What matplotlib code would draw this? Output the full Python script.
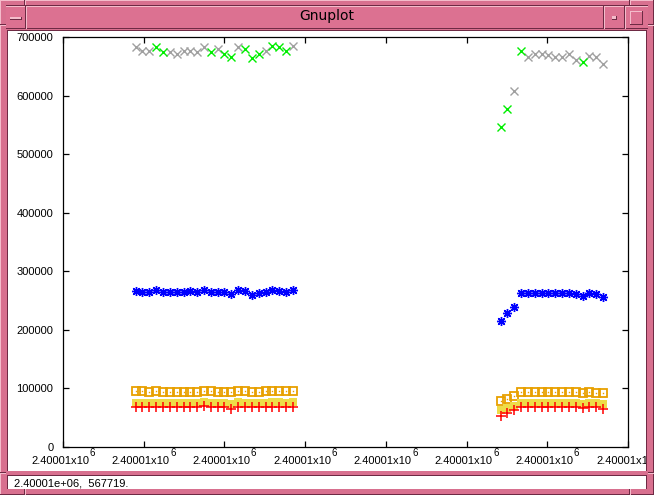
import matplotlib
matplotlib.use('Agg')
import matplotlib.pyplot as plt
from matplotlib.patches import Rectangle
from matplotlib.transforms import Bbox, TransformedBbox

W, H = 654, 495
plt.rcParams['font.family'] = ['Liberation Sans', 'DejaVu Sans']

# time axis (in tick units, all ticks read 2.40001x10^6)
t_left = [0.904, 0.979, 1.066, 1.152, 1.239, 1.326, 1.412, 1.499, 1.574, 1.660, 1.747, 1.834,
          1.920, 1.995, 2.082, 2.168, 2.255, 2.342, 2.428, 2.515, 2.590, 2.676, 2.763, 2.850]
t_right = [5.427, 5.501, 5.588, 5.675, 5.761, 5.848, 5.935, 6.009, 6.096, 6.183, 6.269, 6.356,
           6.443, 6.517, 6.604, 6.691]
t_all = t_left + t_right

red_v = [67800, 67800, 67800, 67800, 67800, 67800, 67800, 67800, 67800, 67800, 70000, 67800,
         67800, 67800, 65500, 67800, 67800, 67800, 67800, 67800, 67800, 67800, 67800, 67800,
         53500, 58500, 62500, 67800, 67800, 67800, 67800, 67800, 67800, 67800, 67800, 67800,
         66000, 67800, 67800, 64500]
yellow_v = [75600, 75600, 75600, 75600, 75600, 75600, 75600, 75600, 75600, 75600, 77300, 75600,
            75600, 75600, 73900, 77300, 75600, 75600, 75600, 75600, 77300, 77300, 75600, 77300,
            63700, 67100, 70500, 75600, 75600, 75600, 75600, 75600, 75600, 75600, 75600, 75600,
            73900, 75600, 75600, 73900]
orange_v = [95100, 95100, 93400, 95700, 93400, 93400, 93400, 93400, 93400, 93400, 95100, 95100,
            93400, 93400, 93400, 95100, 95100, 93400, 93400, 95100, 95100, 95100, 95100, 95100,
            78000, 81400, 87100, 93400, 93400, 93400, 93400, 93400, 93400, 93400, 93400, 93400,
            92300, 93400, 92300, 92300]
blue_v = [265800, 264100, 264100, 267500, 264100, 264100, 264100, 264100, 265800, 264100, 267500, 264100,
          264100, 264100, 260700, 267500, 265800, 259000, 262400, 264100, 267500, 265800, 264100, 267500,
          214600, 228300, 238500, 262400, 262400, 262400, 262400, 262400, 262400, 262400, 262400, 260700,
          257800, 263500, 260700, 256600]

green_t = [1.152, 1.239, 1.834, 1.995, 2.082, 2.255, 2.342, 2.428, 2.590, 2.676, 2.763,
           5.427, 5.501, 5.675, 6.443]
green_v = [682400, 673900, 673900, 670500, 665300, 679500, 663600, 670500, 685100, 682400, 676600,
           546000, 577000, 675600, 657000]
gray_t = [0.904, 0.979, 1.066, 1.326, 1.412, 1.499, 1.574, 1.660, 1.747, 1.920, 2.168, 2.515, 2.850,
          5.588, 5.761, 5.848, 5.935, 6.009, 6.096, 6.183, 6.269, 6.356, 6.517, 6.604, 6.691]
gray_v = [682400, 676600, 676600, 673900, 670500, 676600, 676600, 673900, 683400, 679500, 683400, 675600, 685100,
          608000, 665300, 671000, 671000, 669500, 666000, 666000, 671000, 660800, 667600, 665900, 654000]

yticks = [0, 100000, 200000, 300000, 400000, 500000, 600000, 700000]
xtick_text = '2.40001x10'
status = '2.40001e+06,  567719.'

PINK = '#d8708f'
LIGHT = '#f4bccb'
DARK = '#6e2a44'

fig = plt.figure(figsize=(6.54, 4.95), dpi=100, facecolor=PINK)


def box(x0, y0, x1, y1, color, z=0):
    fig.add_artist(Rectangle((x0 / W, 1 - y1 / H), (x1 - x0) / W, (y1 - y0) / H,
                             transform=fig.transFigure, facecolor=color,
                             edgecolor='none', zorder=z))


# window frame
box(0, 0, 654, 1, LIGHT); box(0, 0, 1, 495, LIGHT)
box(0, 494, 654, 495, DARK); box(653, 0, 654, 495, DARK)
for x in (24, 629):
    box(x, 0, x + 1, 6, DARK); box(x + 1, 0, x + 2, 6, LIGHT)
    box(x, 489, x + 1, 495, DARK); box(x + 1, 489, x + 2, 495, LIGHT)
for y in (24, 472):
    box(0, y, 6, y + 1, DARK); box(0, y + 1, 6, y + 2, LIGHT)
    box(648, y, 654, y + 1, DARK); box(648, y + 1, 654, y + 2, LIGHT)
# title bar
box(6, 5, 648, 6, DARK)
box(6, 6, 648, 29, '#dc7191')
box(6, 6, 648, 7, LIGHT)
box(6, 28, 648, 29, DARK)
box(25, 6, 26, 29, DARK); box(26, 6, 27, 29, LIGHT)
box(603, 6, 604, 29, DARK); box(604, 6, 605, 29, LIGHT)
box(624, 6, 625, 29, DARK); box(625, 6, 626, 29, LIGHT)
box(10, 17, 22, 20, DARK); box(10, 17, 21, 19, LIGHT)
box(612, 16, 617, 20, DARK); box(612, 16, 616, 19, LIGHT)
box(630, 11, 643, 25, DARK); box(631, 12, 642, 24, '#dc7191'); box(630, 11, 642, 12, LIGHT); box(630, 11, 631, 24, LIGHT)
fig.text(327 / W, 1 - 16 / H, 'Gnuplot', ha='center', va='center', fontsize=10,
         family='DejaVu Sans', zorder=5)
# canvas and status area
box(7, 30, 647, 471, DARK)
box(8, 31, 646, 471, 'white')
box(7, 475, 647, 489, DARK)
box(8, 476, 646, 489, 'white')
fig.text(14 / W, 1 - 484 / H, status, ha='left', va='center', fontsize=8, zorder=5)

ax = fig.add_axes([63 / W, 1 - 447 / H, 565 / W, 410 / H], zorder=3)
ax.set_facecolor('white')
ax.set_xlim(0, 7)
ax.set_ylim(0, 700000)
for s in ax.spines.values():
    s.set_linewidth(0.9)
ax.set_xticks(range(8))
ax.set_yticks(yticks)
ax.set_yticklabels([str(v) for v in yticks])
ax.tick_params(direction='in', length=4.5, width=0.9, top=True, right=True,
               labelbottom=False, labelsize=8, pad=7)

ax.plot(gray_t, gray_v, ls='none', marker='x', ms=5.5, mew=1, color='#a0a0a0')
ax.plot(green_t, green_v, ls='none', marker='x', ms=5.5, mew=1, color='#00ee00')
ax.plot(t_all, blue_v, ls='none', marker=(8, 2, 0), ms=6.5, mew=1, color='#0000ff')
ax.plot(t_all, orange_v, ls='none', marker='s', ms=5.5, mew=1.3, mfc='none', color='#e8a000')
ax.plot(t_all, orange_v, ls='none', marker='s', ms=1.0, mew=0, color='#e8a000')
ax.plot(t_all, yellow_v, ls='none', marker='s', ms=5.5, mew=0, color='#eedc48')
ax.plot(t_all, red_v, ls='none', marker='+', ms=6.5, mew=1.1, color='#ff0000')

# x tick labels like gnuplot's enhanced text, clipped by the canvas
clip = TransformedBbox(Bbox.from_extents(8 / W, 1 - 471 / H, 646 / W, 1 - 31 / H), fig.transFigure)
for i in range(8):
    px = 63 + i * 565 / 7
    t1 = fig.text((px + 26) / W, 1 - 461 / H, xtick_text, ha='right', va='center', fontsize=8, zorder=5)
    t1.set_clip_on(True)
    t1.set_clip_box(clip)
    if i < 7:
        fig.text((px + 26.5) / W, 1 - 453 / H, '6', ha='left', va='center', fontsize=7, zorder=5)

fig.savefig('out.png', dpi=100, facecolor=PINK)
